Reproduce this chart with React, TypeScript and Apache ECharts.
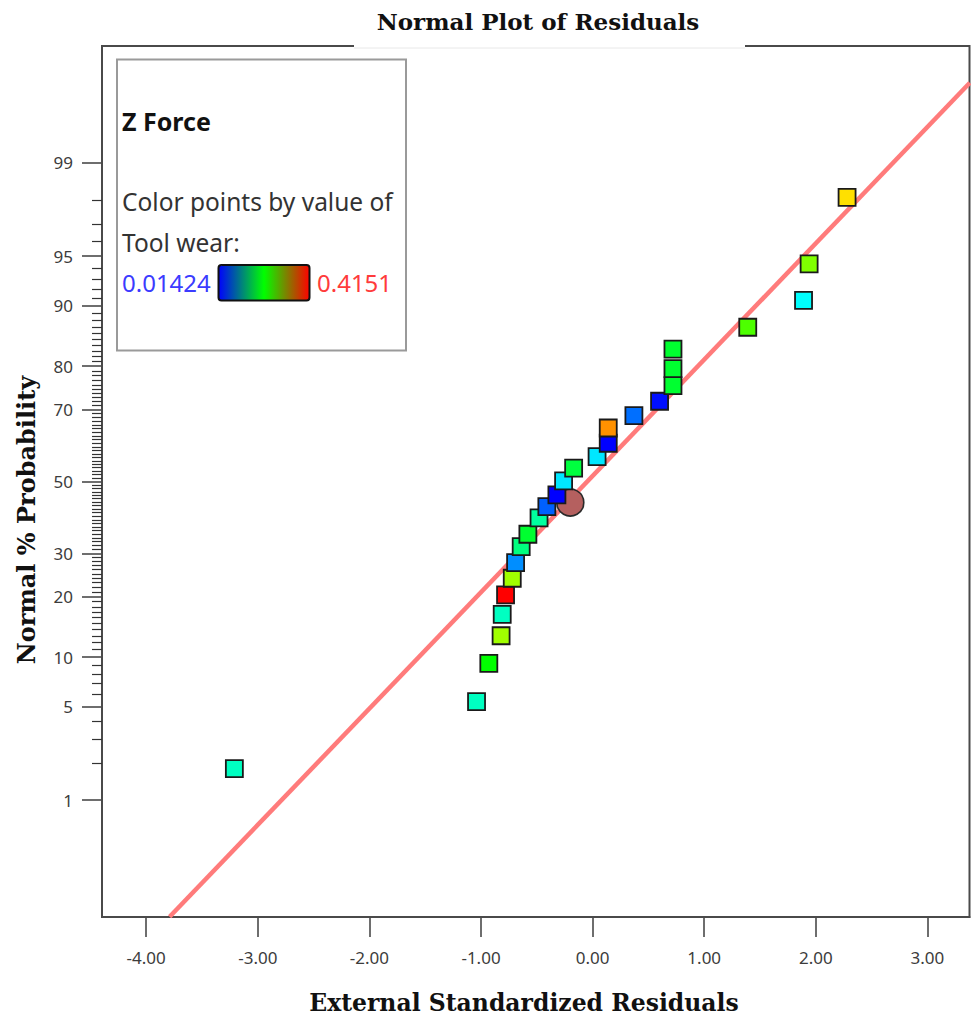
import React, { useEffect, useRef } from "react";
import * as echarts from "echarts";

// ---- Data ----
// External standardized residuals (x) of the square points, in rank order
const residuals = [
  -3.21, -1.04, -0.93, -0.82, -0.81, -0.78, -0.72, -0.69, -0.64, -0.58, -0.48, -0.41,
  -0.32, -0.26, -0.17, 0.04, 0.14, 0.14, 0.37, 0.6, 0.72, 0.72, 0.72, 1.39, 1.89, 1.94, 2.28,
];
// Normal % probability (y) of the square points
const probabilities = [
  1.8, 5.4, 9.2, 13.0, 16.6, 20.4, 24.0, 27.7, 31.7, 35.0, 39.5, 42.7,
  46.1, 50.2, 53.9, 57.2, 61.0, 65.2, 68.5, 72.1, 75.8, 79.5, 83.3, 87.0, 90.7, 94.4, 98.1,
];
// Tool wear value used to colour each point
const toolWear = [
  0.139, 0.139, 0.215, 0.278, 0.139, 0.4151, 0.278, 0.07, 0.165, 0.196, 0.152, 0.052,
  0.01424, 0.105, 0.19, 0.105, 0.01424, 0.358, 0.058, 0.02, 0.196, 0.196, 0.196, 0.245, 0.115, 0.265, 0.327,
];
// Highlighted (circle) point
const highlightResidual = [-0.2];
const highlightProbability = [43.9];
// Fitted normal line end points
const fitResiduals = [-3.79, 3.38];
const fitProbabilities = [0.074, 99.82];

const toolWearMin = 0.01424;
const toolWearMax = 0.4151;

const xTicks = [-4, -3, -2, -1, 0, 1, 2, 3];
const yMajorLabels = [1, 5, 10, 20, 30, 50, 70, 80, 90, 95, 99];

// inverse normal CDF (probability scale of the y axis)
function probit(pct: number): number {
  const p = pct / 100;
  const a = [-3.969683028665376e1, 2.209460984245205e2, -2.759285104469687e2, 1.38357751867269e2, -3.066479806614716e1, 2.506628277459239];
  const b = [-5.447609879822406e1, 1.615858368580409e2, -1.556989798598866e2, 6.680131188771972e1, -1.328068155288572e1];
  const c = [-7.784894002430293e-3, -3.223964580411365e-1, -2.400758277161838, -2.549732539343734, 4.374664141464968, 2.938163982698783];
  const d = [7.784695709041462e-3, 3.224671290700398e-1, 2.445134137142996, 3.754408661907416];
  const pl = 0.02425;
  if (p < pl) {
    const q = Math.sqrt(-2 * Math.log(p));
    return (((((c[0] * q + c[1]) * q + c[2]) * q + c[3]) * q + c[4]) * q + c[5]) / ((((d[0] * q + d[1]) * q + d[2]) * q + d[3]) * q + 1);
  }
  if (p <= 1 - pl) {
    const q = p - 0.5;
    const r = q * q;
    return ((((((a[0] * r + a[1]) * r + a[2]) * r + a[3]) * r + a[4]) * r + a[5]) * q) / (((((b[0] * r + b[1]) * r + b[2]) * r + b[3]) * r + b[4]) * r + 1);
  }
  const q = Math.sqrt(-2 * Math.log(1 - p));
  return -(((((c[0] * q + c[1]) * q + c[2]) * q + c[3]) * q + c[4]) * q + c[5]) / ((((d[0] * q + d[1]) * q + d[2]) * q + d[3]) * q + 1);
}

const yMinorPct: number[] = [];
for (let v = 2; v <= 98; v++) {
  if (!yMajorLabels.includes(v)) yMinorPct.push(v);
}

export default function App() {
  const ref = useRef<HTMLDivElement>(null);

  useEffect(() => {
    if (!ref.current) return;
    const chart = echarts.init(ref.current, undefined, { renderer: "svg" });

    const majorZ = yMajorLabels.map(probit);
    const minorZ = yMinorPct.map(probit);
    const labelFor = (v: number) => {
      const i = majorZ.findIndex((z) => Math.abs(z - v) < 1e-6);
      return i >= 0 ? String(yMajorLabels[i]) : "";
    };

    const axisColor = "#4a4a4a";
    const yMin = -3.18;
    const yMax = 3.18;

    const option: any = {
      animation: false,
      backgroundColor: "#fff",
      grid: {
        left: 102,
        right: 1.5,
        top: 46,
        bottom: 100,
        show: true,
        borderColor: axisColor,
        borderWidth: 2,
        containLabel: false,
      },
      xAxis: {
        type: "value",
        min: -4.396,
        max: 3.377,
        axisLine: { show: true, onZero: false, lineStyle: { color: axisColor, width: 2 } },
        axisTick: { show: true, customValues: xTicks, length: 20, lineStyle: { color: axisColor, width: 1.6 } },
        axisLabel: {
          customValues: xTicks,
          formatter: (v: number) => v.toFixed(2),
          margin: 32,
          fontSize: 17,
          color: "#3c3c3c",
          fontFamily: "Noto Sans",
        },
        splitLine: { show: false },
      },
      yAxis: [
        {
          type: "value",
          position: "left",
          min: yMin,
          max: yMax,
          axisLine: { show: true, onZero: false, lineStyle: { color: axisColor, width: 2 } },
          axisTick: { show: true, customValues: majorZ, length: 20, lineStyle: { color: axisColor, width: 1.6 } },
          axisLabel: {
            customValues: majorZ,
            formatter: labelFor,
            margin: 29,
            fontSize: 17,
            color: "#3c3c3c",
            fontFamily: "Noto Sans",
          },
          splitLine: { show: false },
        },
        {
          type: "value",
          position: "left",
          min: yMin,
          max: yMax,
          axisLine: { show: true, onZero: false, lineStyle: { color: axisColor, width: 2 } },
          axisTick: { show: true, customValues: minorZ, length: 10, lineStyle: { color: "#333", width: 1.2 } },
          axisLabel: { show: false },
          splitLine: { show: false },
        },
      ],
      visualMap: {
        type: "continuous",
        show: false,
        min: toolWearMin,
        max: toolWearMax,
        dimension: 2,
        seriesIndex: 2,
        inRange: { color: ["#0000ff", "#00ffff", "#00ff00", "#ffff00", "#ff0000"] },
      },
      series: [
        {
          type: "line",
          z: 1,
          silent: true,
          showSymbol: false,
          symbol: "none",
          data: fitResiduals.map((x, i) => [x, probit(fitProbabilities[i])]),
          lineStyle: { color: "#ff7b7b", width: 4.5 },
        },
        {
          type: "scatter",
          z: 2,
          symbol: "circle",
          symbolSize: 27,
          data: highlightResidual.map((x, i) => [x, probit(highlightProbability[i])]),
          itemStyle: { color: "#b5605f", borderColor: "#2a2a2a", borderWidth: 1.6, opacity: 1 },
        },
        {
          type: "scatter",
          z: 3,
          symbol: "rect",
          symbolSize: 17,
          data: residuals.map((x, i) => [x, probit(probabilities[i]), toolWear[i]]),
          itemStyle: { borderColor: "#1a1a1a", borderWidth: 1.8, opacity: 1 },
        },
      ],
      graphic: [
        {
          type: "rect",
          z: 100,
          shape: { x: 354, y: 0, width: 391, height: 47.5 },
          style: { fill: "#fff" },
        },
        {
          type: "line",
          z: 100,
          shape: { x1: 354, y1: 48, x2: 745, y2: 48 },
          style: { stroke: "#e8e8e8", lineWidth: 1 },
        },
        {
          type: "text",
          z: 101,
          x: 538,
          y: 21,
          style: {
            text: "Normal Plot of Residuals",
            fontFamily: "DejaVu Serif",
            fontWeight: "bold",
            fontSize: 23,
            fill: "#111",
            align: "center",
            verticalAlign: "middle",
          },
        },
        {
          type: "text",
          z: 101,
          x: 26,
          y: 520,
          rotation: Math.PI / 2,
          style: {
            text: "Normal % Probability",
            fontFamily: "DejaVu Serif",
            fontWeight: "bold",
            fontSize: 24,
            fill: "#111",
            align: "center",
            verticalAlign: "middle",
          },
        },
        {
          type: "text",
          z: 101,
          x: 524,
          y: 1003,
          style: {
            text: "External Standardized Residuals",
            fontFamily: "DejaVu Serif",
            fontWeight: "bold",
            fontSize: 23.5,
            fill: "#111",
            align: "center",
            verticalAlign: "middle",
          },
        },
        // legend box
        {
          type: "rect",
          z: 100,
          shape: { x: 117, y: 59.5, width: 289, height: 291 },
          style: { fill: "#fff", stroke: "#9a9a9a", lineWidth: 2 },
        },
        {
          type: "text",
          z: 101,
          x: 122,
          y: 121,
          style: { text: "Z Force", fontFamily: "Noto Sans", fontWeight: "bold", fontSize: 25, fill: "#111", verticalAlign: "middle" },
        },
        {
          type: "text",
          z: 101,
          x: 122,
          y: 201,
          style: { text: "Color points by value of", fontFamily: "Noto Sans", fontSize: 24.5, fill: "#333", verticalAlign: "middle" },
        },
        {
          type: "text",
          z: 101,
          x: 122,
          y: 242,
          style: { text: "Tool wear:", fontFamily: "Noto Sans", fontSize: 24.5, fill: "#333", verticalAlign: "middle" },
        },
        {
          type: "text",
          z: 101,
          x: 122,
          y: 282,
          style: { text: String(toolWearMin), fontFamily: "Noto Sans", fontSize: 24, fill: "#3b3bff", verticalAlign: "middle" },
        },
        {
          type: "rect",
          z: 101,
          shape: { x: 218.5, y: 265, width: 91, height: 35.5, r: 3 },
          style: {
            stroke: "#111",
            lineWidth: 2,
            fill: new echarts.graphic.LinearGradient(0, 0, 1, 0, [
              { offset: 0, color: "#0000ff" },
              { offset: 0.5, color: "#00ff00" },
              { offset: 1, color: "#ff0000" },
            ]),
          },
        },
        {
          type: "text",
          z: 101,
          x: 317,
          y: 282,
          style: { text: String(toolWearMax), fontFamily: "Noto Sans", fontSize: 24, fill: "#ff3b3b", verticalAlign: "middle" },
        },
      ],
    };

    chart.setOption(option);
    return () => chart.dispose();
  }, []);

  return (
    <div
      ref={ref}
      style={{ position: "fixed", left: 0, top: 0, width: 971, height: 1017, background: "#fff" }}
    />
  );
}
